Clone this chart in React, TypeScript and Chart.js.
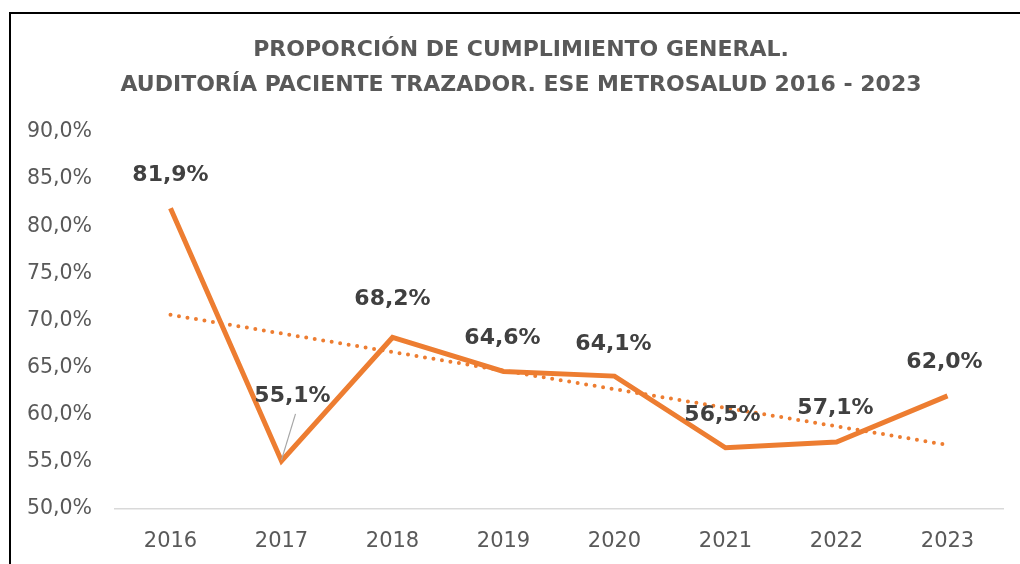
import React, { useEffect, useRef } from "react";
import { Chart, registerables } from "chart.js";

Chart.register(...registerables);

const years = ["2016", "2017", "2018", "2019", "2020", "2021", "2022", "2023"];
const compliance = [81.9, 55.1, 68.2, 64.6, 64.1, 56.5, 57.1, 62.0];
const trend = [70.6, null, null, null, null, null, null, 56.8];
const titleLines = [
  "PROPORCIÓN DE CUMPLIMIENTO GENERAL.",
  "AUDITORÍA PACIENTE TRAZADOR. ESE METROSALUD 2016 - 2023",
];

const ORANGE = "#ED7D31";
const fmt = (v: number) => v.toFixed(1).replace(".", ",") + "%";

const labelOffsets = [
  [0, -33], [11, -65], [0, -38], [-1, -33], [-1, -32], [-3, -32], [-1, -34], [-3, -34],
];

const decorPlugin = {
  id: "decor",
  beforeDraw(chart: any) {
    const ctx = chart.ctx;
    ctx.save();
    ctx.fillStyle = "#ffffff";
    ctx.fillRect(0, 0, chart.width, chart.height);
    ctx.strokeStyle = "#000000";
    ctx.lineWidth = 2;
    ctx.beginPath();
    ctx.moveTo(10, chart.height);
    ctx.lineTo(10, 13);
    ctx.lineTo(chart.width, 13);
    ctx.stroke();
    ctx.fillStyle = "#595959";
    ctx.font = "bold 22px 'DejaVu Sans'";
    ctx.textAlign = "center";
    ctx.textBaseline = "middle";
    ctx.fillText(titleLines[0], 521, 50);
    ctx.fillText(titleLines[1], 521, 85);
    ctx.restore();
  },
  afterDatasetsDraw(chart: any) {
    const ctx = chart.ctx;
    const meta = chart.getDatasetMeta(0);
    ctx.save();
    // leader line for 2017
    const p1 = meta.data[1];
    ctx.strokeStyle = "#A6A6A6";
    ctx.lineWidth = 1.2;
    ctx.beginPath();
    ctx.moveTo(p1.x + 14, p1.y - 47);
    ctx.lineTo(p1.x, p1.y - 1);
    ctx.stroke();
    ctx.fillStyle = "#404040";
    ctx.font = "bold 22px 'DejaVu Sans'";
    ctx.textAlign = "center";
    ctx.textBaseline = "middle";
    meta.data.forEach((pt: any, i: number) => {
      const [dx, dy] = labelOffsets[i];
      ctx.fillText(fmt(compliance[i]), pt.x + dx, pt.y + dy);
    });
    ctx.restore();
  },
};

export default function App() {
  const ref = useRef<HTMLCanvasElement>(null);
  useEffect(() => {
    const chart = new Chart(ref.current!, {
      type: "line",
      data: {
        labels: years,
        datasets: [
          {
            data: compliance,
            borderColor: ORANGE,
            borderWidth: 5,
            pointRadius: 0,
            tension: 0,
            fill: false,
            order: 1,
          },
          {
            data: trend as any,
            borderColor: ORANGE,
            borderWidth: 4,
            borderCapStyle: "round",
            borderDash: [0, 8.6],
            pointRadius: 0,
            spanGaps: true,
            fill: false,
            order: 2,
          },
        ],
      },
      options: {
        responsive: false,
        animation: false,
        layout: { padding: { top: 132, right: 17, left: 0, bottom: 0 } },
        plugins: { legend: { display: false }, tooltip: { enabled: false }, title: { display: false } },
        scales: {
          x: {
            offset: true,
            grid: { display: false, drawTicks: false },
            border: { display: true, color: "#D9D9D9", width: 1.5 },
            ticks: { color: "#595959", font: { family: "'DejaVu Sans'", size: 21 }, padding: 20 },
            afterFit: (s: any) => { s.height = 55; },
          },
          y: {
            min: 50,
            max: 90,
            ticks: {
              stepSize: 5,
              color: "#595959",
              font: { family: "'DejaVu Sans'", size: 20.5 },
              padding: 23,
              callback: (v: any) => fmt(Number(v)),
            },
            grid: { display: false, drawTicks: false },
            border: { display: false },
            afterFit: (s: any) => { s.width = 115; },
          },
        },
      },
      plugins: [decorPlugin],
    });
    return () => chart.destroy();
  }, []);
  return (
    <div style={{ position: "fixed", left: 0, top: 0, width: 1020, height: 564 }}>
      <canvas ref={ref} width={1020} height={564} style={{ display: "block" }} />
    </div>
  );
}
